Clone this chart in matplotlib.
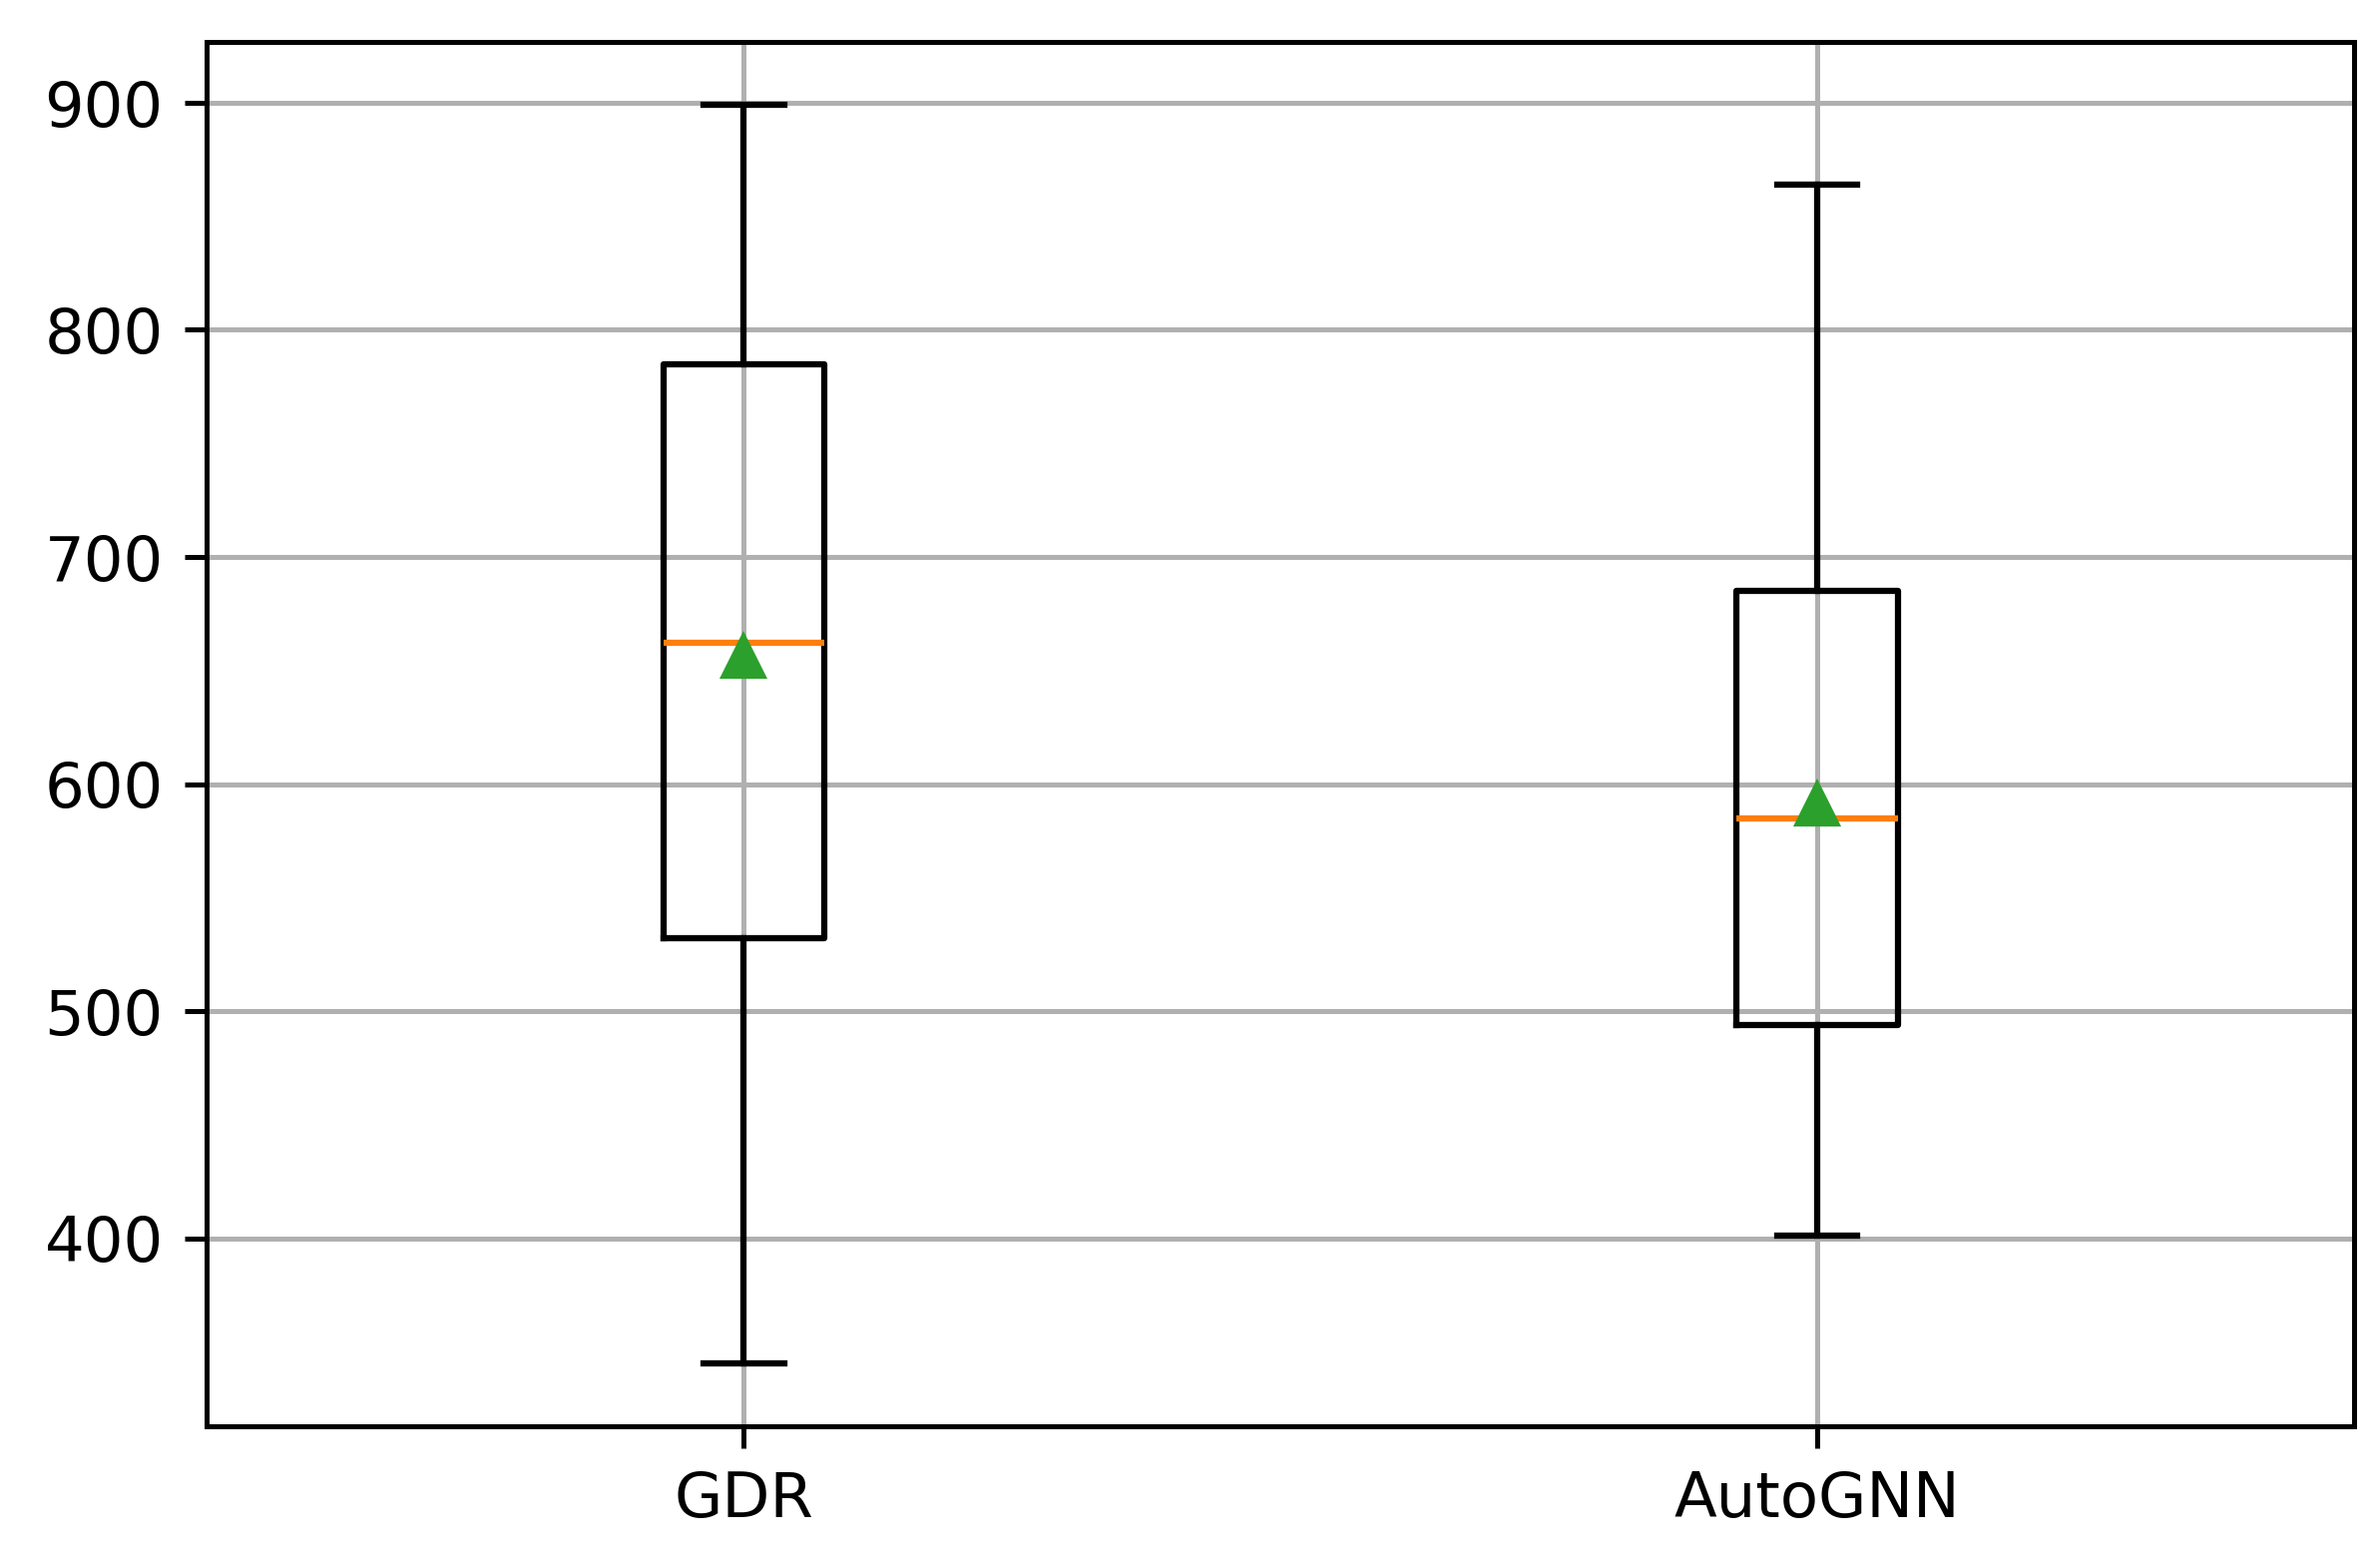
import matplotlib.pyplot as plt

labels = ["GDR", "AutoGNN"]
whislo = [345, 401]
q1 = [532, 494]
med = [662, 585]
q3 = [785, 685]
whishi = [899, 864]
means = [656, 591]

stats = [
    {"label": l, "whislo": lo, "q1": a, "med": m, "q3": b, "whishi": hi, "mean": mu, "fliers": []}
    for l, lo, a, m, b, hi, mu in zip(labels, whislo, q1, med, q3, whishi, means)
]

fig = plt.figure(figsize=(5.3, 3.478))
ax = fig.add_axes([0.087, 0.087, 0.902, 0.886])
ax.bxp(stats, showmeans=True)
ax.grid(True)
fig.savefig("out.png", dpi=450)
